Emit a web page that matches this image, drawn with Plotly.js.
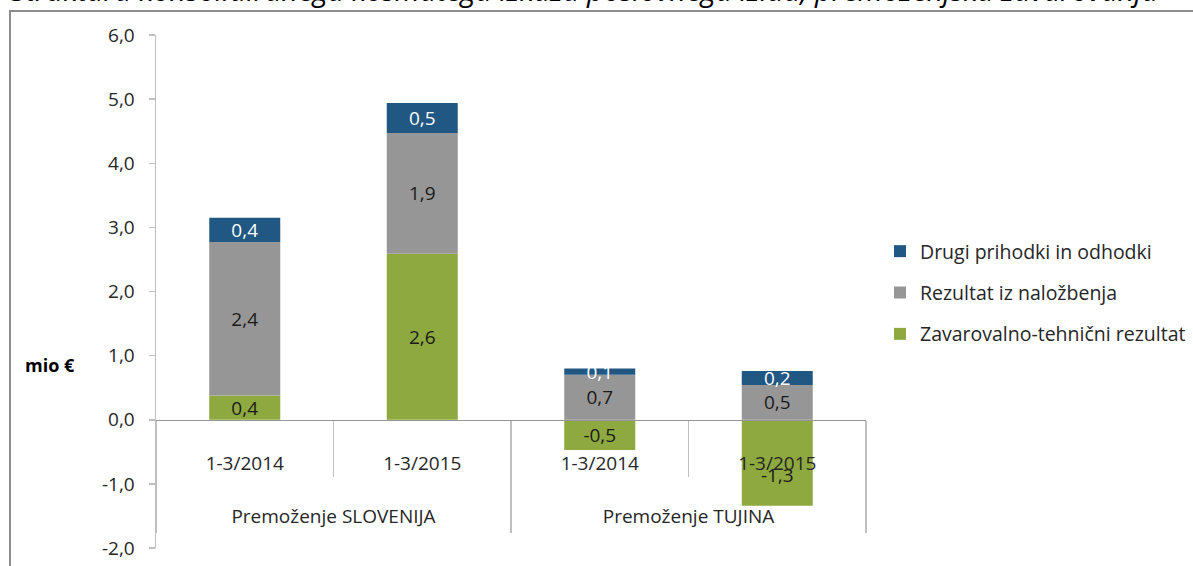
<!DOCTYPE html>
<html>
<head>
<meta charset="utf-8">
<script src="https://cdn.plot.ly/plotly-3.0.1.min.js"></script>
<style>
html,body{margin:0;padding:0;background:#fff;}
#frame{position:absolute;left:9px;top:10px;width:1300px;height:700px;border-left:2px solid #8c8c8c;border-top:2px solid #8c8c8c;}
#chart{position:absolute;left:0;top:0;width:1193px;height:566px;}
</style>
</head>
<body>
<div id="frame"></div>
<div id="chart"></div>
<script>
const groups = ['Premoženje SLOVENIJA', 'Premoženje SLOVENIJA', 'Premoženje TUJINA', 'Premoženje TUJINA'];
const periods = ['1-3/2014', '1-3/2015', '1-3/2014', '1-3/2015'];
const seriesNames = ['Zavarovalno-tehnični rezultat', 'Rezultat iz naložbenja', 'Drugi prihodki in odhodki'];
const zavarovalno = [0.38, 2.59, -0.47, -1.34];
const nalozbe = [2.39, 1.88, 0.70, 0.54];
const drugi = [0.38, 0.47, 0.10, 0.22];
const yTickVals = [-2, -1, 0, 1, 2, 3, 4, 5, 6];
const yTickText = ['-2,0', '-1,0', '0,0', '1,0', '2,0', '3,0', '4,0', '5,0', '6,0'];
const colors = ['#8ea93f', '#969696', '#215783'];
const textColors = ['#1a1a1a', '#1a1a1a', '#ffffff'];
const ranks = [3, 2, 1];

// category index positions and group centres derived from the arrays above
const xIndex = periods.map((_, i) => i);
const groupNames = [...new Set(groups)];
const groupCenters = groupNames.map(g => {
  const idx = xIndex.filter(i => groups[i] === g);
  return (idx[0] + idx[idx.length - 1]) / 2;
});
const xRange = [-0.5, periods.length - 0.5];

const FONT = 'Open Sans, sans-serif';
const traces = [zavarovalno, nalozbe, drugi].map((vals, i) => ({
  type: 'bar',
  name: seriesNames[i],
  x: xIndex,
  y: vals,
  marker: {color: colors[i], line: {width: 0}},
  // long negative labels sit below the category label, as in the original
  texttemplate: vals.map(v => v < -1 ? '\u00a0<br>%{y:.1f}' : '%{y:.1f}'),
  textposition: 'inside',
  insidetextanchor: 'middle',
  insidetextfont: {family: FONT, size: 19, color: textColors[i]},
  legendgroup: 'g' + i,
  legendrank: ranks[i],
  hoverinfo: 'skip'
}));

const layout = {
  width: 1193, height: 566,
  margin: {l: 156, r: 327, t: 35, b: 18, autoexpand: false},
  paper_bgcolor: 'rgba(0,0,0,0)',
  plot_bgcolor: 'rgba(0,0,0,0)',
  separators: ',.',
  barmode: 'relative',
  bargap: 0.6,
  showlegend: true,
  uniformtext: {mode: 'show', minsize: 19},
  font: {family: FONT, size: 19, color: '#262626'},
  title: {
    text: 'Struktura konsolidiranega kosmatega izkaza poslovnega izida, premoženjska zavarovanja',
    font: {family: FONT, size: 29, color: '#000', style: 'italic'},
    x: 0.49, xanchor: 'center', xref: 'container',
    y: 0.998, yanchor: 'bottom', yref: 'container'
  },
  xaxis: {
    anchor: 'free', position: 0.25,
    range: xRange,
    tickmode: 'array', tickvals: xIndex, ticktext: periods,
    showline: true, linecolor: '#969696', linewidth: 1.5,
    ticks: '',
    minor: {ticks: 'outside', tick0: -0.5, dtick: 1, ticklen: 56, tickcolor: '#bfbfbf', tickwidth: 1.5, showgrid: false},
    ticklabelstandoff: 26,
    tickfont: {family: FONT, size: 19, color: '#262626'},
    showgrid: false, zeroline: false
  },
  xaxis2: {
    overlaying: 'x', anchor: 'free', position: 0.25,
    range: xRange,
    tickmode: 'array', tickvals: groupCenters, ticktext: groupNames,
    showline: false, ticks: '',
    minor: {ticks: 'outside', tick0: -0.5, dtick: 2, ticklen: 112, tickcolor: '#bfbfbf', tickwidth: 1.5, showgrid: false},
    ticklabelstandoff: 83,
    tickfont: {family: FONT, size: 19, color: '#262626'},
    showgrid: false, zeroline: false
  },
  yaxis: {
    range: [-2, 6], tickmode: 'array', tickvals: yTickVals, ticktext: yTickText,
    showline: true, linecolor: '#bfbfbf', linewidth: 1.5,
    ticks: 'outside', ticklen: 6, tickcolor: '#bfbfbf', tickwidth: 1.5,
    ticklabelstandoff: 10,
    tickfont: {family: FONT, size: 19, color: '#262626'},
    showgrid: false, zeroline: false
  },
  legend: {
    x: 1.0197, xanchor: 'left', y: 0.616, yanchor: 'top',
    traceorder: 'grouped', tracegroupgap: 13,
    font: {family: FONT, size: 19.5, color: '#262626'},
    itemwidth: 30, bgcolor: 'rgba(0,0,0,0)'
  },
  annotations: [{
    text: '<b>mio €</b>', xref: 'paper', yref: 'paper',
    x: -0.149, y: 0.357, xanchor: 'center', yanchor: 'middle',
    showarrow: false, font: {family: FONT, size: 18, color: '#000'}
  }]
};

// invisible helper trace so that xaxis2 is drawn
traces.push({type: 'scatter', x: [], y: [], xaxis: 'x2', yaxis: 'y', showlegend: false, hoverinfo: 'skip'});

Plotly.newPlot('chart', traces, layout, {displayModeBar: false, staticPlot: true});
</script>
</body>
</html>
